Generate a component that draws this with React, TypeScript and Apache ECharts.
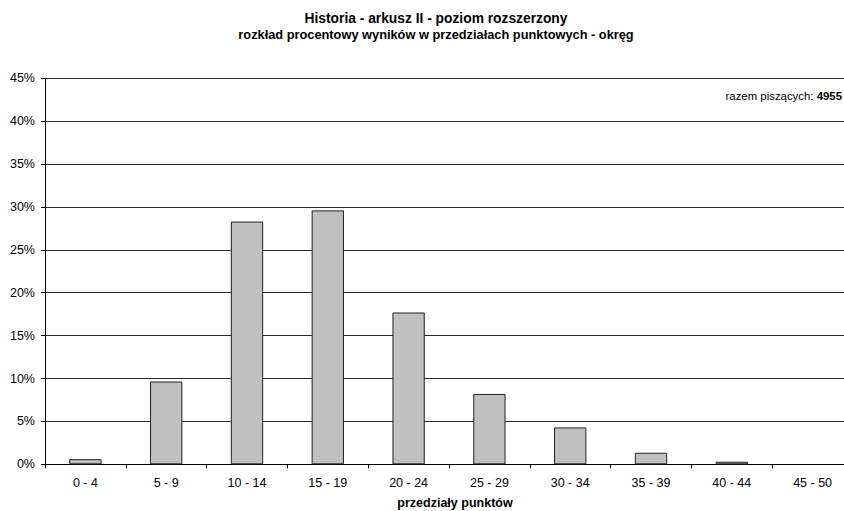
import React, { useEffect, useRef } from "react";
import * as echarts from "echarts";

const categories = ["0 - 4", "5 - 9", "10 - 14", "15 - 19", "20 - 24", "25 - 29", "30 - 34", "35 - 39", "40 - 44", "45 - 50"];
const percentValues = [0.6, 9.65, 28.3, 29.6, 17.7, 8.2, 4.3, 1.35, 0.3, 0];
const titleLines = ["Historia - arkusz II - poziom rozszerzony", "rozkład procentowy wyników w przedziałach punktowych - okręg"];
const xAxisName = "przedziały punktów";
const totalLabel = "razem piszących: ";
const totalValue = "4955";

const FONT = "'Liberation Sans', Arial, sans-serif";

export default function App() {
  const ref = useRef<HTMLDivElement>(null);
  useEffect(() => {
    if (!ref.current) return;
    const chart = echarts.init(ref.current, null, { renderer: "svg" });
    chart.setOption({
      animation: false,
      backgroundColor: "#ffffff",
      textStyle: { fontFamily: FONT },
      title: {
        text: `{a|${titleLines[0]}}\n{b|${titleLines[1]}}`,
        left: 431,
        top: 5,
        textAlign: "center",
        textStyle: {
          fontFamily: FONT,
          fontWeight: "bold",
          color: "#000",
          rich: {
            a: { fontFamily: FONT, fontSize: 13.8, fontWeight: "bold", color: "#000", lineHeight: 16, align: "center" },
            b: { fontFamily: FONT, fontSize: 12.8, fontWeight: "bold", color: "#000", lineHeight: 16, align: "center" },
          },
        },
      },
      grid: { left: 45, top: 78.3, width: 808, height: 386, outerBoundsMode: "none", containLabel: false },
      xAxis: {
        type: "category",
        data: categories,
        boundaryGap: true,
        axisLine: { show: true, lineStyle: { color: "#000", width: 1 } },
        axisTick: { show: true, length: 4, lineStyle: { color: "#000" }, alignWithLabel: false },
        axisLabel: { color: "#000", fontSize: 12.5, fontFamily: FONT, margin: 12, interval: 0 },
      },
      yAxis: {
        type: "value",
        min: 0,
        max: 45,
        interval: 5,
        axisLine: { show: true, lineStyle: { color: "#000", width: 1 } },
        axisTick: { show: true, length: 4, lineStyle: { color: "#000" } },
        axisLabel: { color: "#000", fontSize: 12.5, fontFamily: FONT, margin: 10, formatter: "{value}%" },
        splitLine: { show: true, lineStyle: { color: "#2a2a2a", width: 1 } },
      },
      series: [
        {
          type: "bar",
          data: percentValues.map((v) => ({
            value: v,
            itemStyle: v === 0 ? { borderWidth: 0 } : undefined,
          })),
          barWidth: "40%",
          itemStyle: { color: "#c0c0c0", borderColor: "#222", borderWidth: 1 },
        },
      ],
      graphic: [
        {
          type: "text",
          x: 455,
          y: 503,
          style: { text: xAxisName, font: `bold 12.5px ${FONT}`, fill: "#000", align: "center", verticalAlign: "middle" },
        },
        {
          type: "text",
          x: 842,
          y: 96,
          style: {
            text: `{a|${totalLabel}}{b|${totalValue}}`,
            align: "right",
            verticalAlign: "middle",
            rich: {
              a: { fontFamily: FONT, fontSize: 11.4, color: "#000" },
              b: { fontFamily: FONT, fontSize: 11.4, fontWeight: "bold", color: "#000" },
            },
          },
        },
      ],
    });
    return () => chart.dispose();
  }, []);
  return <div ref={ref} style={{ width: 844, height: 511, position: "absolute", left: 0, top: 0 }} />;
}
